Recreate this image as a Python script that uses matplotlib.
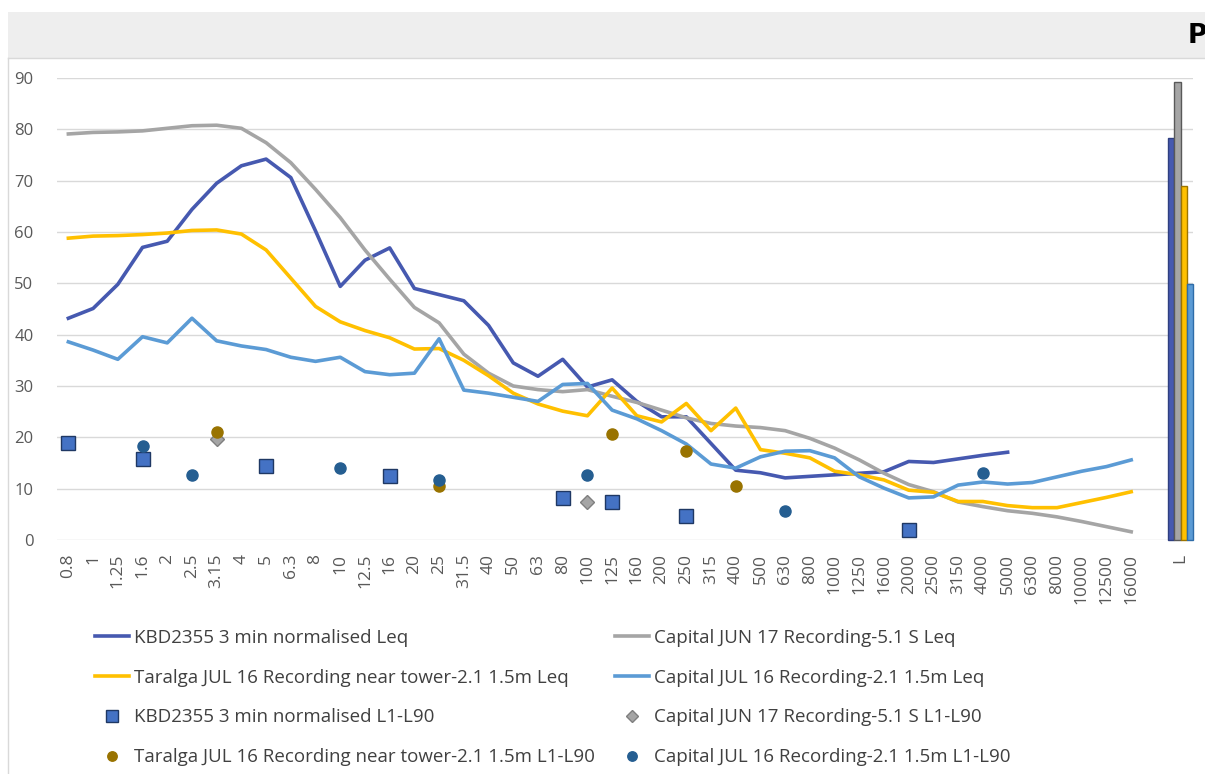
import numpy as np
import matplotlib
matplotlib.use("Agg")
import matplotlib.pyplot as plt
from matplotlib.patches import Rectangle
from matplotlib.lines import Line2D

plt.rcParams['font.family'] = ['Open Sans', 'DejaVu Sans']

freqs = ["0.8", "1", "1.25", "1.6", "2", "2.5", "3.15", "4", "5", "6.3", "8", "10",
         "12.5", "16", "20", "25", "31.5", "40", "50", "63", "80", "100", "125", "160",
         "200", "250", "315", "400", "500", "630", "800", "1000", "1250", "1600", "2000",
         "2500", "3150", "4000", "5000", "6300", "8000", "10000", "12500", "16000"]

# Leq spectra (dB), one value per third-octave band
kbd_leq = [43.2, 45.1, 49.8, 57, 58.2, 64.4, 69.5, 72.9, 74.2, 70.6, 60.2, 49.4,
           54.5, 56.9, 49, 47.8, 46.6, 41.8, 34.5, 31.9, 35.2, 29.8, 31.2, 27,
           24, 24, 18.8, 13.6, 13.1, 12.1, 12.4, 12.7, 13, 13.3, 15.3, 15.1,
           15.8, 16.5, 17.1, None, None, None, None, None]
cap_jun_leq = [79.1, 79.4, 79.5, 79.7, 80.2, 80.7, 80.8, 80.2, 77.4, 73.5, 68.3, 62.8,
               56.5, 50.8, 45.3, 42.3, 36.2, 32.5, 30, 29.3, 28.9, 29.3, 28, 26.8,
               25.3, 23.8, 22.7, 22.2, 21.9, 21.3, 19.8, 17.9, 15.6, 13, 10.8, 9.4,
               7.4, 6.5, 5.7, 5.2, 4.5, 3.6, 2.6, 1.6]
taralga_leq = [58.8, 59.2, 59.3, 59.5, 59.8, 60.3, 60.4, 59.6, 56.5, 51, 45.5, 42.5,
               40.8, 39.4, 37.2, 37.3, 35, 32, 28.6, 26.5, 25.1, 24.2, 29.6, 24.2,
               23, 26.6, 21.3, 25.7, 17.6, 16.9, 16, 13.4, 12.7, 11.7, 9.7, 9.3,
               7.5, 7.5, 6.7, 6.3, 6.3, 7.3, 8.3, 9.4]
cap_jul_leq = [38.6, 37, 35.2, 39.6, 38.4, 43.2, 38.8, 37.8, 37.1, 35.6, 34.8, 35.6,
               32.8, 32.2, 32.5, 39.2, 29.2, 28.6, 27.8, 27, 30.3, 30.5, 25.3, 23.6,
               21.3, 18.7, 14.8, 14, 16.2, 17.3, 17.4, 16, 12.3, 10.1, 8.2, 8.4,
               10.7, 11.3, 10.9, 11.2, 12.3, 13.4, 14.3, 15.6]

# L1-L90 point values (band, dB)
kbd_l1l90_f = ["0.8", "1.6", "5", "16", "80", "125", "250", "2000"]
kbd_l1l90 = [18.8, 15.8, 14.5, 12.5, 8.1, 7.5, 4.7, 2.0]
cap_jun_l1l90_f = ["3.15", "100"]
cap_jun_l1l90 = [19.7, 7.5]
taralga_l1l90_f = ["3.15", "25", "125", "250", "400"]
taralga_l1l90 = [21.1, 10.5, 20.7, 17.4, 10.6]
cap_jul_l1l90_f = ["1.6", "2.5", "10", "25", "100", "630", "4000"]
cap_jul_l1l90 = [18.3, 12.7, 14, 11.6, 12.7, 5.7, 13]

# overall level "L"
overall = [78.4, 89.2, 69, 49.9]

C_KBD = "#4659b0"
C_GREY = "#a5a5a5"
C_YEL = "#ffc000"
C_LB = "#5b9bd5"
C_OLIVE = "#997300"
C_DB = "#255e91"

W, H = 1205, 774
fig = plt.figure(figsize=(W / 100, H / 100), dpi=100)

# header band and frame
fig.patches.append(Rectangle((8 / W, 1 - 58 / H), 1, 46 / H, transform=fig.transFigure,
                             facecolor="#eeeeee", edgecolor="none", zorder=0))
fig.add_artist(Line2D([8 / W, 1], [1 - 58 / H, 1 - 58 / H], color="#d9d9d9", lw=1))
fig.add_artist(Line2D([8 / W, 8 / W], [0, 1 - 58 / H], color="#d9d9d9", lw=1))
fig.text(1188 / W, 1 - 36 / H, "P", fontsize=19, fontweight="bold", va="center",
         ha="left", family="DejaVu Sans")

ax = fig.add_axes([57 / W, 1 - 540 / H, 1136 / W, 462 / H])
x = np.arange(len(freqs))
idx = {f: i for i, f in enumerate(freqs)}

def ser(vals):
    return np.array([np.nan if v is None else v for v in vals], dtype=float)

ax.plot(x, ser(kbd_leq), color=C_KBD, lw=2.6, label="KBD2355 3 min normalised Leq")
ax.plot(x, ser(cap_jun_leq), color=C_GREY, lw=2.6, label="Capital JUN 17 Recording-5.1 S Leq")
ax.plot(x, ser(taralga_leq), color=C_YEL, lw=2.6,
        label="Taralga JUL 16 Recording near tower-2.1 1.5m Leq")
ax.plot(x, ser(cap_jul_leq), color=C_LB, lw=2.6, label="Capital JUL 16 Recording-2.1 1.5m Leq")

ax.plot([idx[f] for f in kbd_l1l90_f], kbd_l1l90, ls="none", marker="s", ms=10.5,
        mfc="#4472c4", mec="#1f3864", mew=1, label="KBD2355 3 min normalised L1-L90")
ax.plot([idx[f] for f in cap_jun_l1l90_f], cap_jun_l1l90, ls="none", marker="D", ms=7.5,
        mfc=C_GREY, mec="#7f7f7f", mew=1, label="Capital JUN 17 Recording-5.1 S L1-L90")
ax.plot([idx[f] for f in taralga_l1l90_f], taralga_l1l90, ls="none", marker="o", ms=8,
        mfc=C_OLIVE, mec=C_OLIVE, label="Taralga JUL 16 Recording near tower-2.1 1.5m L1-L90")
ax.plot([idx[f] for f in cap_jul_l1l90_f], cap_jul_l1l90, ls="none", marker="o", ms=8,
        mfc=C_DB, mec=C_DB, label="Capital JUL 16 Recording-2.1 1.5m L1-L90")

# overall bars at "L"
bw = 0.26
bar_fc = [C_KBD, C_GREY, C_YEL, C_LB]
bar_ec = ["#2f3f80", "#595959", "#9c7400", "#2e6ca8"]
lpos = len(freqs) + 1
for k in range(4):
    ax.bar(lpos + (k - 1.5) * bw, overall[k], width=bw, color=bar_fc[k],
           edgecolor=bar_ec[k], lw=1, zorder=3, clip_on=False)

ax.set_xlim(-0.46, 45.5)
ax.set_ylim(0, 90)
ax.set_yticks(range(0, 91, 10))
ax.set_xticks(list(x) + [lpos])
ax.set_xticklabels(freqs + ["L"], rotation=90)
ax.tick_params(axis="both", length=0, labelcolor="#595959")
ax.tick_params(axis="y", pad=17, labelsize=12)
ax.tick_params(axis="x", pad=10, labelsize=12.5)
ax.grid(axis="y", color="#d9d9d9", lw=1)
ax.set_axisbelow(True)
for s in ax.spines.values():
    s.set_visible(False)

h, l = ax.get_legend_handles_labels()
order1 = [0, 2, 4, 6]
order2 = [1, 3, 5, 7]
common = dict(loc="upper left", frameon=False, fontsize=13.5, handlelength=1.8,
              handletextpad=0.3, labelspacing=1.16, borderpad=0, borderaxespad=0,
              labelcolor="#404040", markerscale=0.85)
fig.legend([h[i] for i in order1], [l[i] for i in order1],
           bbox_to_anchor=(95 / W, 1 - 629 / H), **common)
fig.legend([h[i] for i in order2], [l[i] for i in order2],
           bbox_to_anchor=(615 / W, 1 - 629 / H), **common)

fig.savefig("out.png", dpi=100)
